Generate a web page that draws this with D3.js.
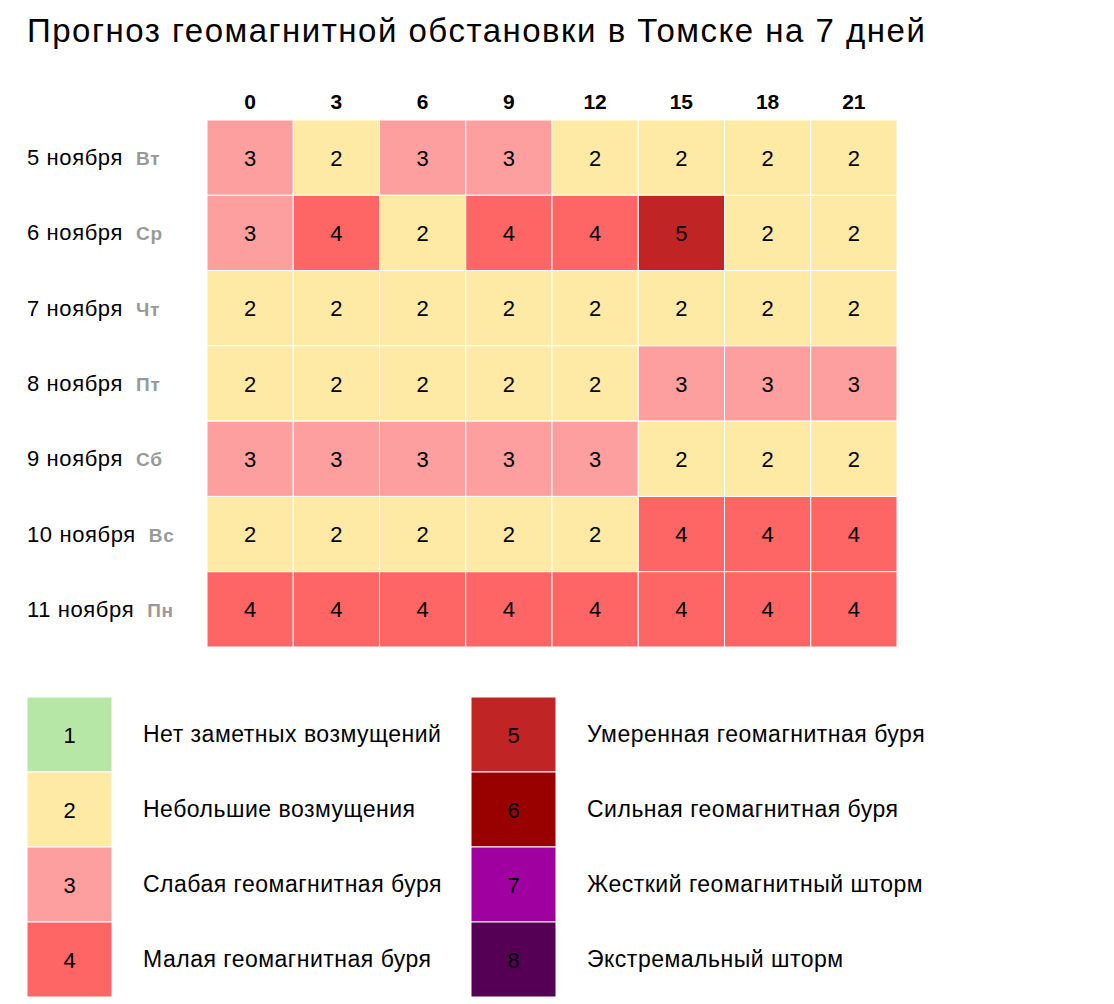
<!DOCTYPE html>
<html><head><meta charset="utf-8">
<script src="https://cdn.jsdelivr.net/npm/d3@7"></script>
<style>body{margin:0;background:#fff;} text{font-family:"Liberation Sans",Arial,sans-serif;}</style>
</head><body>
<svg id="c" width="1114" height="1004"></svg>
<script>
const title = "Прогноз геомагнитной обстановки в Томске на 7 дней";
const hours = ["0","3","6","9","12","15","18","21"];
const dates = ["5 ноября","6 ноября","7 ноября","8 ноября","9 ноября","10 ноября","11 ноября"];
const weekdays = ["Вт","Ср","Чт","Пт","Сб","Вс","Пн"];
const values = [
  [3,2,3,3,2,2,2,2],
  [3,4,2,4,4,5,2,2],
  [2,2,2,2,2,2,2,2],
  [2,2,2,2,2,3,3,3],
  [3,3,3,3,3,2,2,2],
  [2,2,2,2,2,4,4,4],
  [4,4,4,4,4,4,4,4]
];
const levels = [1,2,3,4,5,6,7,8];
const levelLabels = ["Нет заметных возмущений","Небольшие возмущения","Слабая геомагнитная буря","Малая геомагнитная буря",
  "Умеренная геомагнитная буря","Сильная геомагнитная буря","Жесткий геомагнитный шторм","Экстремальный шторм"];
const levelColors = ["#b7e7a7","#fee9a5","#fd9f9f","#fe6666","#c02425","#990000","#9f009f","#560055"];

const svg = d3.select("#c");
const color = d3.scaleOrdinal().domain(levels).range(levelColors);

svg.append("text").attr("x",27).attr("y",42).attr("font-size",33).attr("letter-spacing",1.5).attr("fill","#000").text(title);

const x = d3.scaleBand().domain(hours).range([207,897]);
const y = d3.scaleBand().domain(dates).range([120,647]);

const cells = [];
values.forEach((row,i)=>row.forEach((v,j)=>cells.push({d:dates[i],h:hours[j],v})));

svg.append("g").selectAll("rect").data(cells).join("rect")
  .attr("x",d=>x(d.h)).attr("y",d=>y(d.d))
  .attr("width",x.bandwidth()).attr("height",y.bandwidth())
  .attr("fill",d=>color(d.v)).attr("stroke","#fff").attr("stroke-width",1);

svg.append("g").selectAll("text").data(cells).join("text")
  .attr("x",d=>x(d.h)+x.bandwidth()/2).attr("y",d=>y(d.d)+y.bandwidth()/2+8)
  .attr("text-anchor","middle").attr("font-size",22).attr("fill","#000").text(d=>d.v);

svg.append("g").selectAll("text").data(hours).join("text")
  .attr("x",d=>x(d)+x.bandwidth()/2).attr("y",109)
  .attr("text-anchor","middle").attr("font-size",21).attr("font-weight","bold").attr("fill","#000").text(d=>d);

const rl = svg.append("g").selectAll("text").data(dates).join("text")
  .attr("x",27).attr("y",d=>y(d)+y.bandwidth()/2+7.5).attr("font-size",22).attr("letter-spacing",0.6).attr("fill","#000");
rl.append("tspan").text(d=>d);
rl.append("tspan").attr("dx",13).attr("font-size",19).attr("letter-spacing",0.8).attr("font-weight","bold").attr("fill","#999")
  .text((d,i)=>weekdays[i]);

// legend
const lg = levels.map((l,i)=>({l,label:levelLabels[i],col:Math.floor(i/4),row:i%4}));
const lx = d3.scaleOrdinal().domain([0,1]).range([27,471]);
const ly = d3.scaleBand().domain([0,1,2,3]).range([697,997]);
const g = svg.append("g").selectAll("g").data(lg).join("g");
g.append("rect").attr("x",d=>lx(d.col)).attr("y",d=>ly(d.row)).attr("width",85).attr("height",ly.bandwidth())
  .attr("fill",d=>color(d.l)).attr("stroke","#fff").attr("stroke-width",1);
g.append("text").attr("x",d=>lx(d.col)+42.5).attr("y",d=>ly(d.row)+ly.bandwidth()/2+8)
  .attr("text-anchor","middle").attr("font-size",22).attr("fill","#000").text(d=>d.l);
g.append("text").attr("x",d=>lx(d.col)+116).attr("y",d=>ly(d.row)+ly.bandwidth()/2+7.5)
  .attr("font-size",23).attr("letter-spacing",0.5).attr("fill","#000").text(d=>d.label);
</script>
</body></html>
